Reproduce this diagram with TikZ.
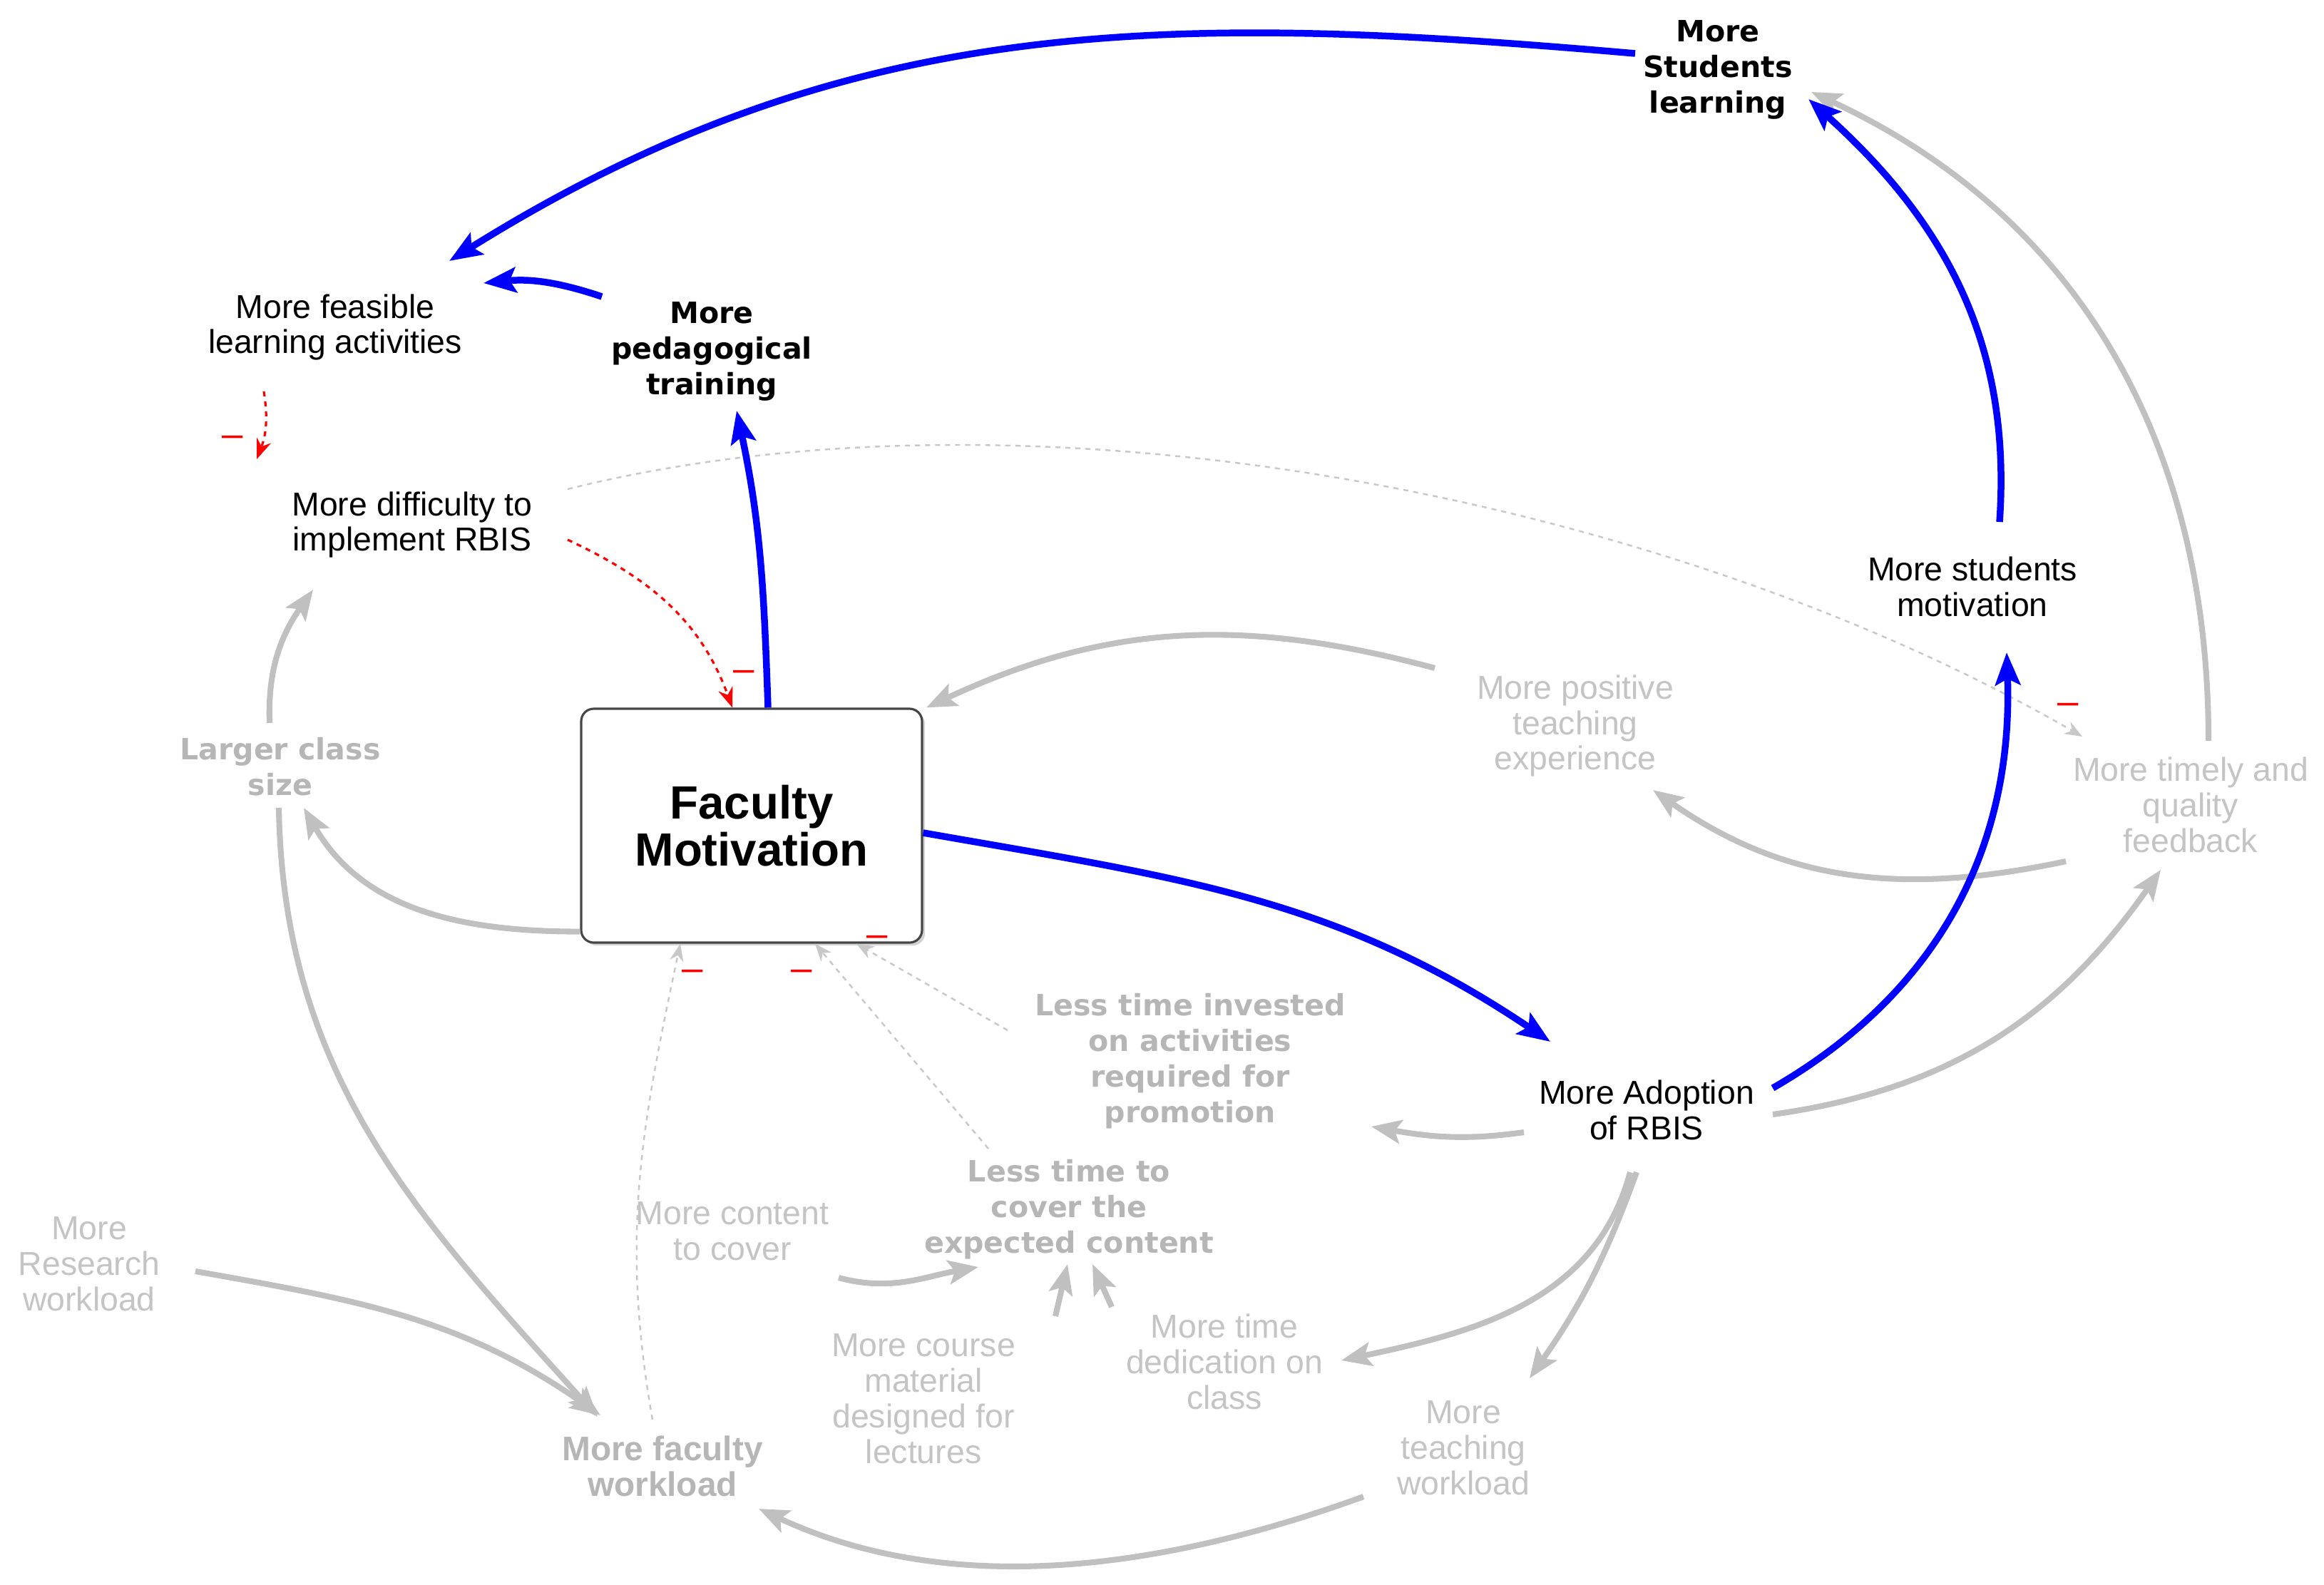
\documentclass[tikz,border=0pt]{standalone}
\usepackage{fontspec}
\setmainfont{Liberation Sans}
\newfontfamily\dvsans{DejaVu Sans}
\usetikzlibrary{arrows.meta, shadows}
\definecolor{lgray}{RGB}{192,192,192}
\definecolor{tgray}{RGB}{196,196,196}
\definecolor{bgray}{RGB}{182,182,182}
\definecolor{dgray}{RGB}{200,200,200}
\definecolor{boxgray}{RGB}{70,70,70}
\definecolor{pureblue}{RGB}{0,0,255}
\definecolor{purered}{RGB}{255,0,0}

\begin{document}
\begin{tikzpicture}[
    lbl/.style={align=center, inner sep=1pt, font=\fontsize{13.2}{14.2}\selectfont},
    dimlbl/.style={lbl, text=tgray},
    boldlbl/.style={align=center, inner sep=1pt, font=\dvsans\bfseries\fontsize{11.7}{14.2}\selectfont},
    dimbold/.style={boldlbl, text=bgray},
    fmbox/.style={draw=boxgray, line width=0.9pt, rounded corners=5pt, fill=white,
        minimum width=4.78cm, minimum height=3.28cm, align=center,
        font=\bfseries\fontsize{18.6}{18.9}\selectfont,
        drop shadow={shadow xshift=1.2pt, shadow yshift=-1.2pt, opacity=0.35}},
    blueline/.style={pureblue, line width=2.7pt, -{Stealth[length=13pt, width=10pt, inset=2.5pt]}},
    grayline/.style={lgray, line width=2.3pt, -{Stealth[length=12pt, width=9.5pt, inset=2.5pt]}},
    dotline/.style={dgray, line width=0.7pt, dash pattern=on 2pt off 2pt, -{Stealth[length=7pt, width=5.5pt]}},
    redline/.style={purered, line width=0.9pt, dash pattern=on 2pt off 2pt, -{Stealth[length=8pt, width=6pt]}},
    polmark/.style={text=purered, inner sep=0pt, font=\fontsize{15}{15}\selectfont}
]
    \useasboundingbox (0,0) rectangle (32.59,-22.22);

    \node[boldlbl] (msl) at (24.09,-0.98) {More\\Students\\learning};
    \node[lbl] (mfl) at (4.70,-4.59) {More feasible\\learning activities};
    \node[boldlbl] (mpt) at (9.98,-4.93) {More\\pedagogical\\training};
    \node[lbl] (mdi) at (5.78,-7.36) {More difficulty to\\implement RBIS};
    \node[dimbold] (lcs) at (3.93,-10.75) {Larger class\\size};
    \node[fmbox] (fm) at (10.54,-11.58) {Faculty\\Motivation};
    \node[lbl] (msm) at (27.66,-8.23) {More students\\motivation};
    \node[dimlbl] (mpe) at (22.09,-10.18) {More positive\\teaching\\experience};
    \node[dimlbl] (mtf) at (30.72,-11.29) {More timely and\\quality\\feedback};
    \node[dimbold] (lti) at (16.69,-14.88) {Less time invested\\on activities\\required for\\promotion};
    \node[lbl] (mar) at (23.09,-15.57) {More Adoption\\of RBIS};
    \node[dimbold] (ltc) at (14.99,-16.96) {Less time to\\cover the\\expected content};
    \node[dimlbl] (mcc) at (10.27,-17.27) {More content\\to cover};
    \node[dimlbl] (mrw) at (1.25,-17.73) {More\\Research\\workload};
    \node[dimlbl] (mcm) at (12.95,-19.62) {More course\\material\\designed for\\lectures};
    \node[dimlbl] (mtd) at (17.17,-19.10) {More time\\dedication on\\class};
    \node[dimlbl] (mtw) at (20.52,-20.31) {More\\teaching\\workload};
    \node[lbl, text=bgray, font=\bfseries\fontsize{13.6}{14.2}\selectfont] (mfw) at (9.29,-20.56) {More faculty\\workload};

    \draw[dotline] ([shift={(2.18,0.50)}]mdi.center) to[out=14,in=150,looseness=0.8] ([shift={(-1.52,0.96)}]mtf.center);
    \draw[dotline] ([shift={(-0.14,0.65)}]mfw.center) to[out=100,in=-102] ([xshift=-1.00cm]fm.south);
    \draw[dotline] ([shift={(-1.13,0.85)}]ltc.center) -- ([xshift=0.89cm]fm.south);
    \draw[dotline] ([shift={(-2.56,0.43)}]lti.center) -- ([xshift=1.47cm]fm.south);
    \draw[redline] ([shift={(2.18,-0.21)}]mdi.center) to[out=-25,in=110] ([xshift=-0.27cm]fm.north);
    \draw[redline] ([shift={(-1.00,-0.90)}]mfl.center) to[bend left=15] ([shift={(-2.18,0.92)}]mdi.center);

    \node[polmark] (neg1) at ([shift={(-0.83,-2.10)}]fm.center) {--};
    \node[polmark] (neg2) at ([shift={(0.70,-2.10)}]fm.center) {--};
    \node[polmark] (neg3) at ([shift={(1.76,-1.62)}]fm.center) {--};
    \node[polmark] (neg4) at ([shift={(-0.11,2.10)}]fm.center) {--};
    \node[polmark] (neg5) at ([shift={(-2.52,1.17)}]mdi.center) {--};
    \node[polmark] (neg6) at ([shift={(-1.72,1.35)}]mtf.center) {--};

    \draw[grayline] ([shift={(0.25,0.90)}]mtf.center) to[out=90,in=-25] ([shift={(1.31,-0.31)}]msl.center);
    \draw[grayline] ([shift={(-1.97,0.81)}]mpe.center) to[out=165,in=25] ([xshift=2.45cm]fm.north);
    \draw[grayline] ([shift={(-1.75,-0.79)}]mtf.center) to[out=192,in=-35] ([shift={(1.09,-0.90)}]mpe.center);
    \draw[grayline] ([shift={(1.77,-0.06)}]mar.center) to[out=8,in=-125] ([shift={(-0.42,-0.91)}]mtf.center);
    \draw[grayline] ([shift={(-1.72,-0.31)}]mar.center) to[out=188,in=-10] ([shift={(2.54,-0.92)}]lti.center);
    \draw[grayline] ([shift={(-0.23,-0.87)}]mar.center) to[out=-105,in=12] ([shift={(1.64,0.02)}]mtd.center);
    \draw[grayline] ([shift={(-0.14,-0.87)}]mar.center) to[out=-110,in=55] ([shift={(0.93,0.98)}]mtw.center);
    \draw[grayline] ([shift={(-1.40,-0.68)}]mtw.center) to[out=200,in=-25,looseness=0.9] ([shift={(1.35,-0.60)}]mfw.center);
    \draw[grayline] ([yshift=0.17cm]fm.south west) to[out=180,in=-60] ([shift={(0.33,-0.58)}]lcs.center);
    \draw[grayline] ([shift={(-0.15,0.61)}]lcs.center) to[out=92,in=-125] ([shift={(-1.39,-0.91)}]mdi.center);
    \draw[grayline] ([shift={(-0.02,-0.58)}]lcs.center) to[out=-89,in=132] ([shift={(-0.91,0.69)}]mfw.center);
    \draw[grayline] ([shift={(1.49,-0.10)}]mrw.center) to[out=-10,in=145] ([shift={(-0.87,0.71)}]mfw.center);
    \draw[grayline] ([shift={(1.49,-0.65)}]mcc.center) to[out=-15,in=190] ([shift={(-1.27,-0.81)}]ltc.center);
    \draw[grayline] ([shift={(1.85,1.16)}]mcm.center) -- ([shift={(-0.02,-0.77)}]ltc.center);
    \draw[grayline] ([shift={(-1.58,0.77)}]mtd.center) -- ([shift={(0.33,-0.77)}]ltc.center);

    \draw[blueline] ([shift={(-1.16,0.23)}]msl.center) to[out=175,in=32] ([shift={(1.60,0.93)}]mfl.center);
    \draw[blueline] ([shift={(-1.54,0.77)}]mpt.center) to[bend right=12] ([shift={(2.08,0.62)}]mfl.center);
    \draw[blueline] ([xshift=0.23cm]fm.north) to[out=92,in=-78] ([shift={(0.35,-0.83)}]mpt.center);
    \draw[blueline] ([yshift=-0.1cm]fm.east) to[out=-10,in=146] ([shift={(-1.35,0.96)}]mar.center);
    \draw[blueline] ([shift={(1.77,0.31)}]mar.center) to[out=30,in=-88] ([shift={(0.48,-0.92)}]msm.center);
    \draw[blueline] ([shift={(0.38,0.91)}]msm.center) to[out=86,in=-42] ([shift={(1.27,-0.41)}]msl.center);
\end{tikzpicture}
\end{document}
